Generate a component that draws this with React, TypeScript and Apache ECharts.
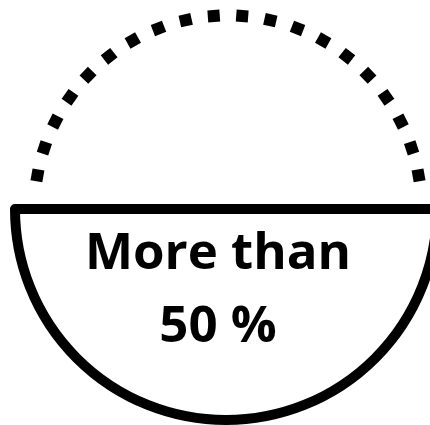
import React, { useEffect, useRef } from "react";
import * as echarts from "echarts";

// Share shown by the solid lower half vs the remaining (dotted) upper half
const SHARE_NAMES = ["More than 50 %", "Rest"];
const SHARE_VALUES = [50, 50];
// Gauge scale used to place the dotted top arc
const GAUGE_MIN = 0;
const GAUGE_MAX = 100;
const GAUGE_DOT_INTERVALS = 19;
const LABEL_PREFIX = "More than";
const HEADLINE_VALUE = [50];

export default function App() {
  const ref = useRef<HTMLDivElement>(null);
  useEffect(() => {
    if (!ref.current) return;
    const chart = echarts.init(ref.current, undefined, { renderer: "svg" });
    const font = "'Open Sans', 'Noto Sans', sans-serif";
    chart.setOption({
      animation: false,
      backgroundColor: "#ffffff",
      series: [
        {
          type: "pie",
          silent: true,
          center: [226, 209],
          radius: [0, 211],
          startAngle: 0,
          clockwise: true,
          label: { show: false },
          labelLine: { show: false },
          emphasis: { disabled: true },
          data: SHARE_NAMES.map((name, i) => ({
            name,
            value: SHARE_VALUES[i],
            itemStyle:
              i === 0
                ? {
                    color: "#ffffff",
                    borderColor: "#000000",
                    borderWidth: 10,
                    borderJoin: "round",
                  }
                : { color: "rgba(0,0,0,0)", borderWidth: 0 },
          })),
          z: 1,
        },
        {
          type: "gauge",
          silent: true,
          center: [228, 209],
          radius: 199.5,
          startAngle: 170,
          endAngle: 10,
          min: GAUGE_MIN,
          max: GAUGE_MAX,
          splitNumber: GAUGE_DOT_INTERVALS,
          axisLine: { show: false, lineStyle: { width: 0 } },
          progress: { show: false },
          pointer: { show: false },
          anchor: { show: false },
          axisTick: { show: false },
          axisLabel: { show: false },
          splitLine: {
            show: true,
            length: 12,
            distance: 0,
            lineStyle: { color: "#000000", width: 12, cap: "butt" },
          },
          title: { show: false },
          detail: {
            show: true,
            valueAnimation: false,
            offsetCenter: [-10, 76],
            formatter: (v: number) => `${LABEL_PREFIX}\n${v} %`,
            color: "#000000",
            fontFamily: font,
            fontWeight: "bold",
            fontSize: 51,
            lineHeight: 73,
            align: "center",
          },
          data: HEADLINE_VALUE.map((v) => ({ value: v })),
          z: 3,
        },
      ],
    });
    return () => chart.dispose();
  }, []);
  return (
    <div
      ref={ref}
      style={{ position: "fixed", left: 0, top: 0, width: 430, height: 425 }}
    />
  );
}
